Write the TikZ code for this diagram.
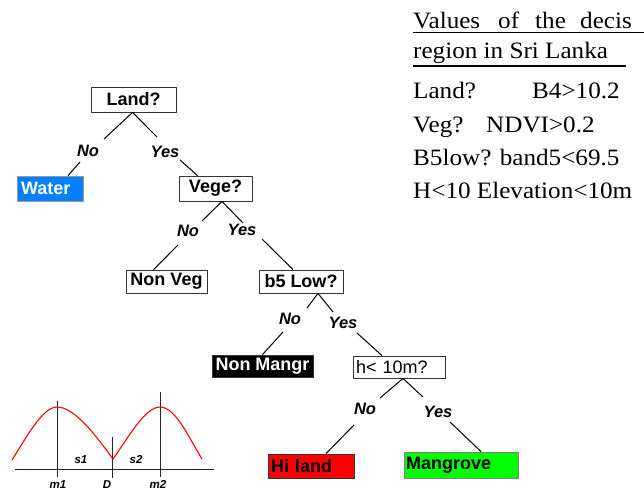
\documentclass[tikz,border=0pt]{standalone}
\usepackage{fontspec}
\setmainfont{Liberation Sans}
\newfontfamily\serifv[FakeStretch=1.07]{Liberation Serif}
\usetikzlibrary{calc}
\definecolor{wblue}{RGB}{0,128,255}
\definecolor{mgreen}{RGB}{0,255,0}
\definecolor{hred}{RGB}{255,0,0}
\begin{document}
\begin{tikzpicture}[x=1pt,y=-1pt,
  box/.style={draw=black!80,line width=0.8pt,inner sep=0pt,font=\fontsize{18}{18}\selectfont\bfseries},
  yn/.style={font=\fontsize{16.5}{17}\selectfont\bfseries\itshape,inner sep=1pt},
  conn/.style={line width=1pt},
  val/.style={anchor=base west,inner sep=0pt,font=\serifv\fontsize{23.5}{24}\selectfont},
  glbl/.style={font=\fontsize{11.5}{11.5}\selectfont\bfseries\itshape,inner sep=0pt},
  ax/.style={line width=0.8pt,black!85}
]
\useasboundingbox[fill=white] (0,0) rectangle (644,490);

% tree nodes
\node[box,minimum width=85pt,minimum height=25pt] (land) at (133.5,99.5) {Land?};
\node[box,draw=black!40,fill=wblue,text=white,minimum height=25pt,inner xsep=4pt,text width=58pt,align=left] (water) at (50,188.5) {Water};
\node[box,minimum width=73pt,minimum height=25pt] (vege) at (215.5,188.5) {Vege?};
\node[box,minimum width=81pt,minimum height=23pt] (nonveg) at (166.5,281.5) {Non Veg};
\node[box,minimum width=84pt,minimum height=23pt] (b5) at (301,281.5) {b5 Low?};
\node[box,fill=black,text=white,minimum width=101pt,minimum height=22pt] (nonmangr) at (262.5,366) {Non Mangr};
\node[box,font=\fontsize{18}{18}\selectfont,minimum height=22pt,inner xsep=3pt,text width=86pt,align=left] (h) at (399,367) {h< 10m?};
\node[box,fill=hred,minimum height=24pt,inner xsep=3pt,text width=80pt,align=left] (hiland) at (311,466) {Hi land};
\node[box,draw=black!50,fill=mgreen,minimum height=26pt,inner xsep=2pt,text width=110pt,align=left] (mangrove) at (461,465) {Mangrove};

% branch labels
\node[yn] (no1) at (88,151) {No};
\node[yn] (yes1) at (165,152) {Yes};
\node[yn] (no2) at (188,231) {No};
\node[yn] (yes2) at (242,230) {Yes};
\node[yn] (no3) at (290,319) {No};
\node[yn] (yes3) at (343,323) {Yes};
\node[yn] (no4) at (365,409) {No};
\node[yn] (yes4) at (438,412) {Yes};

% connectors
\draw[conn] ($(land.south)+(-1,0)$) -- ($(no1)+(16,-12)$);
\draw[conn] ($(no1)+(-8,11)$) -- ($(water.north)+(18,0)$);
\draw[conn] ($(land.south)+(-1,0)$) -- ($(yes1)+(-8,-15)$);
\draw[conn] ($(yes1)+(15,8)$) -- ($(vege.north)+(-18,0)$);

\draw[conn] ($(vege.south)+(6.5,0)$) -- ($(no2)+(14,-10)$);
\draw[conn] ($(no2)+(-10,14)$) -- ($(nonveg.north)+(-13,0)$);
\draw[conn] ($(vege.south)+(6.5,0)$) -- ($(yes2)+(1,-7)$);
\draw[conn] ($(yes2)+(20,9)$) -- ($(b5.north)+(-8,0)$);

\draw[conn] ($(b5.south)+(17,0)$) -- ($(no3)+(17,-11)$);
\draw[conn] ($(no3)+(-7,13)$) -- (nonmangr.north);
\draw[conn] ($(b5.south)+(17,0)$) -- ($(yes3)+(-10,-11)$);
\draw[conn] ($(yes3)+(14,10)$) -- ($(h.north)+(-17,0)$);

\draw[conn] ($(h.south)+(4,0)$) -- ($(no4)+(15,-11)$);
\draw[conn] ($(no4)+(-11,16)$) -- ($(hiland.north)+(15,0)$);
\draw[conn] ($(h.south)+(4,0)$) -- ($(yes4)+(-15,-15)$);
\draw[conn] ($(yes4)+(12,10)$) -- ($(mangrove.north)+(20,0)$);

% values text
\node[val] (v1) at (413,28) {Values};
\node[val] (v2) at (498,28) {of};
\node[val] (v3) at (535,28) {the};
\node[val] (v4) at (580,28) {decis};
\draw[line width=1.3pt] (413,32.5) -- (644,32.5);
\node[val] (r2) at (413,58) {region in Sri Lanka};
\draw[line width=1.3pt] (413,66) -- (626,66);
\node[val] (l3a) at (413,98) {Land?};
\node[val] (l3b) at (532,98) {B4>10.2};
\node[val] (l4a) at (413,132) {Veg?};
\node[val] (l4b) at (486,132) {NDVI>0.2};
\node[val] (l5) at (413,165) {B5low? band5<69.5};
\node[val] (l6) at (413,198) {H<10 Elevation<10m};

% small plot
\draw[ax] (15,469) -- (214,469);
\draw[ax] (57,401) -- (57,477);
\draw[ax] (112,437) -- (112,478);
\draw[ax] (160,392) -- (160,477);
\draw[red,line width=1.1pt] (12,460) .. controls (25,440) and (42,407) .. (57,407)
  .. controls (74,407) and (95,434) .. (113,459)
  .. controls (128,438) and (145,407) .. (160,407)
  .. controls (176,407) and (190,440) .. (202,459);
\node[glbl] (s1) at (81,460) {s1};
\node[glbl] (s2) at (136,460) {s2};
\node[glbl] (m1) at (58,484.5) {m1};
\node[glbl] (dd) at (107,484.5) {D};
\node[glbl] (m2) at (158,484.5) {m2};
\end{tikzpicture}
\end{document}
